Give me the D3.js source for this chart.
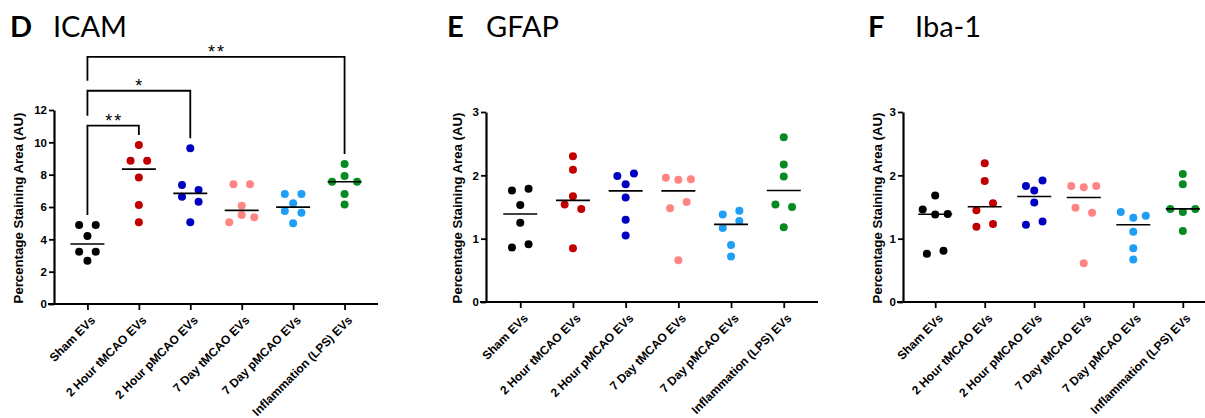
<!DOCTYPE html>
<html>
<head>
<meta charset="utf-8">
<script src="https://cdn.jsdelivr.net/npm/d3@7"></script>
<style>
  body { margin: 0; background: #fff; }
  svg { display: block; }
  .ytitle { font-family: "Liberation Sans", Arial, sans-serif; font-weight: bold; font-size: 13.2px; }
  .ptitle { font-family: Lato, "Open Sans", sans-serif; font-size: 29px; }
  .star { font-family: "Liberation Sans", Arial, sans-serif; font-size: 18px; letter-spacing: 2px; }
</style>
</head>
<body>
<svg id="chart" width="1205" height="418"></svg>
<script>
// groups along x
const categories = ["Sham EVs", "2 Hour tMCAO EVs", "2 Hour pMCAO EVs",
  "7 Day tMCAO EVs", "7 Day pMCAO EVs", "Inflammation (LPS) EVs"];
const groupColors = ["#000000", "#c00000", "#0000c0", "#ff8585", "#1e9ef5", "#078a24"];

// per-animal values (order within a group = left-to-right in a row)
const icamValues = [
  [4.89, 4.89, 4.2, 3.23, 3.23, 2.68],
  [9.83, 8.86, 8.86, 7.83, 6.12, 5.05],
  [9.63, 7.36, 7.05, 6.64, 6.33, 5.05],
  [7.4, 7.4, 6.08, 5.05, 5.5, 5.36],
  [6.8, 6.8, 6.23, 5.75, 5.65, 5.0],
  [8.66, 7.56, 7.92, 7.56, 6.8, 6.16]
];
const gfapValues = [
  [1.76, 1.79, 1.53, 1.25, 0.86, 0.91],
  [2.30, 2.09, 1.67, 1.54, 1.47, 0.85],
  [1.99, 2.03, 1.86, 1.65, 1.30, 1.05],
  [1.96, 1.93, 1.94, 1.48, 1.58, 0.66],
  [1.38, 1.44, 1.17, 1.28, 0.90, 0.72],
  [2.60, 2.17, 1.98, 1.54, 1.50, 1.18]
];
const iba1Values = [
  [1.68, 1.46, 1.38, 1.39, 0.76, 0.81],
  [2.19, 1.91, 1.45, 1.56, 1.19, 1.23],
  [1.83, 1.92, 1.76, 1.57, 1.22, 1.27],
  [1.83, 1.81, 1.83, 1.49, 1.41, 0.61],
  [1.42, 1.33, 1.36, 1.11, 0.85, 0.67],
  [2.02, 1.86, 1.47, 1.42, 1.47, 1.12]
];

const icamTicks = [0, 2, 4, 6, 8, 10, 12];
const smallTicks = [0, 1, 2, 3];

// significance brackets on ICAM (group index pairs, bracket height in data units)
const icamSig = [
  { a: 0, b: 1, label: "**", level: 11.03 },
  { a: 0, b: 2, label: "*", level: 13.19 },
  { a: 0, b: 5, label: "**", level: 15.29 }
];

const panels = [
  { letter: "D", name: "ICAM", values: icamValues, ticks: icamTicks, max: 12, sig: icamSig,
    x0: 54, x1: 378, yTop: 110, yBot: 304, titleX: 18, letterX: 10, nameX: 53 },
  { letter: "E", name: "GFAP", values: gfapValues, ticks: smallTicks, max: 3, sig: [],
    x0: 486, x1: 818, yTop: 112, yBot: 302, titleX: 457, letterX: 447, nameX: 486 },
  { letter: "F", name: "Iba-1", values: iba1Values, ticks: smallTicks, max: 3, sig: [],
    x0: 903, x1: 1215, yTop: 112, yBot: 302, titleX: 877, letterX: 868, nameX: 915 }
];

const svg = d3.select("#chart");
const dotR = 4;
const rowGap = 7.5;   // px: points closer than this share a row
const labelFont = "'Liberation Sans', Arial, sans-serif";

// spread points of similar value side by side, the way Prism does it
function spread(vals, y) {
  const idx = d3.range(vals.length).sort((i, j) => vals[j] - vals[i] || i - j);
  const off = new Array(vals.length).fill(0);
  let row = [];
  const flush = () => {
    row.sort((i, j) => i - j);
    const n = row.length;
    const s = n === 2 ? 16.6 : 12.5;
    row.forEach((k, i) => { off[k] = (i - (n - 1) / 2) * s; });
    row = [];
  };
  idx.forEach(k => {
    if (row.length && Math.abs(y(vals[k]) - y(vals[row[0]])) >= rowGap) flush();
    row.push(k);
  });
  flush();
  return off;
}

panels.forEach(p => {
  const g = svg.append("g");
  const x = d3.scalePoint().domain(categories).range([p.x0, p.x1]).padding(0.65);
  const y = d3.scaleLinear().domain([0, p.max]).range([p.yBot, p.yTop]);

  // panel heading
  g.append("text").attr("class", "ptitle").attr("x", p.letterX).attr("y", 37)
    .attr("font-weight", "bold").text(p.letter);
  g.append("text").attr("class", "ptitle").attr("x", p.nameX).attr("y", 37).text(p.name);

  // y axis
  const ya = g.append("g").attr("transform", `translate(${p.x0},0)`)
    .call(d3.axisLeft(y).tickValues(p.ticks).tickFormat(d3.format("d"))
      .tickSize(5).tickSizeOuter(0).tickPadding(2));
  ya.attr("font-family", labelFont).attr("font-size", 11.5).attr("font-weight", "bold");
  ya.select(".domain").attr("stroke-width", 2.2);
  ya.selectAll(".tick line").attr("stroke-width", 1.8);

  // x axis
  const xa = g.append("g").attr("transform", `translate(0,${p.yBot})`)
    .call(d3.axisBottom(x).tickSize(6).tickSizeOuter(0));
  xa.attr("font-family", labelFont).attr("font-size", 12).attr("font-weight", "bold");
  xa.select(".domain").attr("d", `M${p.x0 - 6},0H${p.x1}`).attr("stroke-width", 2.2);
  xa.selectAll(".tick line").attr("stroke-width", 1.8);
  xa.selectAll(".tick text")
    .attr("text-anchor", "end")
    .attr("transform", "translate(5,14) rotate(-45)")
    .attr("x", 0).attr("y", 0).attr("dy", "0.35em");

  g.append("text").attr("class", "ytitle")
    .attr("transform", `translate(${p.titleX},${(p.yTop + p.yBot) / 2 + 1}) rotate(-90)`)
    .attr("text-anchor", "middle").attr("dy", "0.35em")
    .text("Percentage Staining Area (AU)");

  // dots + median bars
  p.values.forEach((vals, gi) => {
    const cx = x(categories[gi]);
    const off = spread(vals, y);
    g.append("g").selectAll("circle").data(vals).join("circle")
      .attr("cx", (d, i) => cx + off[i])
      .attr("cy", d => y(d))
      .attr("r", dotR)
      .attr("fill", groupColors[gi]);
    const med = d3.median(vals);
    g.append("line")
      .attr("x1", cx - 17).attr("x2", cx + 17)
      .attr("y1", y(med)).attr("y2", y(med))
      .attr("stroke", "#000").attr("stroke-width", 1.6);
  });

  // significance brackets
  let prevY = null;
  p.sig.forEach(s => {
    const by = y(s.level);
    const xa0 = x(categories[s.a]), xb = x(categories[s.b]);
    const leftEnd = prevY === null ? y(d3.max(p.values[s.a])) - 10 : prevY - 10;
    const rightEnd = y(d3.max(p.values[s.b])) - 10;
    g.append("path")
      .attr("d", `M${xa0},${leftEnd}V${by}H${xb}V${rightEnd}`)
      .attr("fill", "none").attr("stroke", "#000").attr("stroke-width", 1.8);
    g.append("text").attr("class", "star")
      .attr("x", (xa0 + xb) / 2 + 1).attr("y", by + 1)
      .attr("text-anchor", "middle").text(s.label);
    prevY = by;
  });
});
</script>
</body>
</html>
